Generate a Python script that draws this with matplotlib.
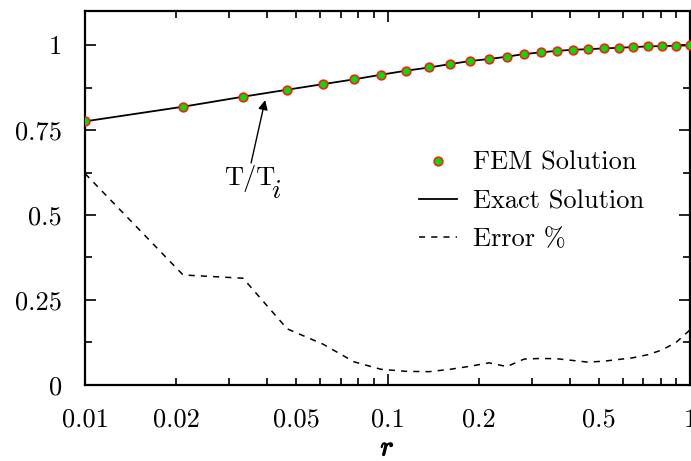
# -*- coding: utf-8 -*-
"""
FEM vs exact temperature ratio along r, with percent error.
"""

import numpy as np
import matplotlib.pyplot as plt
import matplotlib.patheffects as pe
from matplotlib.ticker import FixedLocator, FixedFormatter, NullFormatter

plt.rcParams['font.family'] = 'cmr10'
plt.rcParams['mathtext.fontset'] = 'cm'
plt.rcParams['axes.formatter.use_mathtext'] = True

# node positions and values
r_nodes = [0.01, 0.0211, 0.0333, 0.0466, 0.0612, 0.0775, 0.0952, 0.1151,
           0.1372, 0.161, 0.1875, 0.2166, 0.248, 0.2827, 0.3217, 0.3635,
           0.410, 0.460, 0.520, 0.582, 0.648, 0.726, 0.808, 0.899, 1.0]
T_fem = [0.7755, 0.8186, 0.848, 0.8686, 0.885, 0.899, 0.9127, 0.9245,
         0.934, 0.944, 0.953, 0.959, 0.9657, 0.9735, 0.9785, 0.983,
         0.986, 0.988, 0.990, 0.992, 0.994, 0.996, 0.997, 0.998, 0.999]
T_exact = T_fem
err_pct = [0.622, 0.3235, 0.314, 0.165, 0.12, 0.068, 0.046, 0.040,
           0.039, 0.046, 0.055, 0.065, 0.054, 0.076, 0.078, 0.077,
           0.072, 0.067, 0.070, 0.075, 0.080, 0.089, 0.103, 0.125, 0.162]

y_ticks = [0, 0.25, 0.5, 0.75, 1]
y_labels = ['0', '0.25', '0.5', '0.75', '1']
x_major = [0.01, 0.1, 1]
x_major_labels = ['0.01', '0.1', '1']
x_minor_labels = {0.02: '0.02', 0.05: '0.05', 0.2: '0.2', 0.5: '0.5'}

fig = plt.figure(figsize=(6.91, 4.61), dpi=100)
ax = fig.add_axes([0.123, 0.165, 0.8756, 0.811])

ax.plot(r_nodes, T_fem, 'o', ms=6.2, mfc='#00e000', mec='#ff1a1a', mew=1.2,
        label='FEM Solution', zorder=3)
ax.plot(r_nodes, T_exact, '-', color='black', lw=1.3, label='Exact Solution',
        zorder=2)
ax.plot(r_nodes, err_pct, '--', color='black', lw=1.1, dashes=(4, 4),
        label='Error %')

ax.set_xscale('log')
ax.set_xlim(0.01, 1)
ax.set_ylim(0, 1.1)

ax.xaxis.set_major_locator(FixedLocator(x_major))
ax.xaxis.set_major_formatter(FixedFormatter(x_major_labels))
minors = [round(m * d, 3) for d in (0.01, 0.1) for m in range(2, 10)]
ax.xaxis.set_minor_locator(FixedLocator(minors))
ax.xaxis.set_minor_formatter(FixedFormatter(
    [x_minor_labels.get(v, '') for v in minors]))

ax.yaxis.set_major_locator(FixedLocator(y_ticks))
ax.yaxis.set_major_formatter(FixedFormatter(y_labels))
ax.yaxis.set_minor_locator(FixedLocator([0.125, 0.375, 0.625, 0.875]))
ax.yaxis.set_minor_formatter(NullFormatter())

ax.tick_params(which='both', direction='in', top=True, right=True,
               labelsize=19, width=1.2, pad=16.5)
ax.tick_params(which='major', length=8)
ax.tick_params(which='minor', length=5)
for s in ax.spines.values():
    s.set_linewidth(1.6)

xl = ax.set_xlabel('$r$', fontsize=20, labelpad=2.5)
xl.set_path_effects([pe.withStroke(linewidth=0.9, foreground='black')])

# T/T_i label with arrow pointing at the curve
t = ax.text(0.0351, 0.606, 'T/T', ha='center', va='center', fontsize=19)
ax.annotate('', xy=(0.0394, 0.838), xytext=(0.0354, 0.653),
            arrowprops=dict(arrowstyle='-|>', color='black', lw=1.0,
                            shrinkA=0, shrinkB=0, mutation_scale=14))
ax.annotate('$i$', xy=(1.0, 0.0), xycoords=t, xytext=(-3.5, -3.8),
            textcoords='offset points', ha='left', va='baseline', fontsize=20)

ax.legend(loc='upper left', bbox_to_anchor=(0.552, 0.625), frameon=False,
          fontsize=19, handlelength=1.45, handletextpad=0.6, labelspacing=0.55,
          borderaxespad=0, borderpad=0)

fig.savefig('out.png', dpi=100)
